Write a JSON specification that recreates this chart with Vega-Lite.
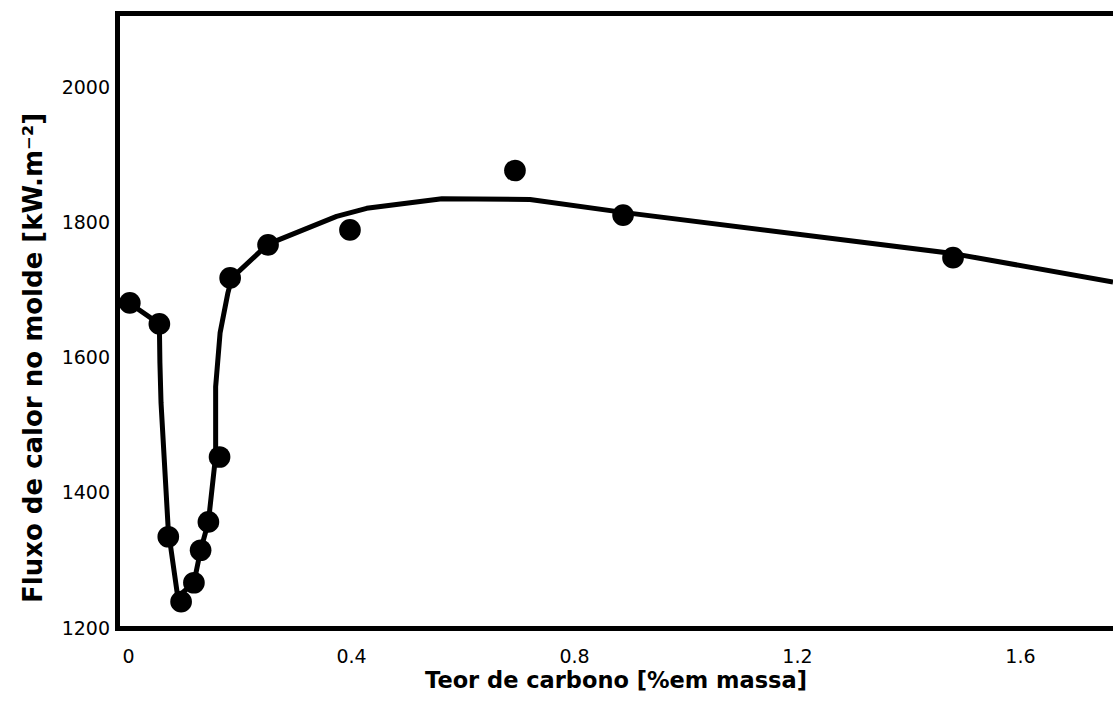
{
  "$schema": "https://vega.github.io/schema/vega-lite/v6.json",
  "width": 996,
  "height": 615,
  "autosize": {"type": "none"},
  "padding": {"left": 117, "top": 13, "right": 0, "bottom": 74},
  "background": "white",
  "view": {"stroke": null},
  "config": {
    "axis": {
      "grid": false,
      "ticks": false,
      "tickSize": 0,
      "domain": true,
      "domainColor": "black",
      "domainWidth": 5,
      "domainCap": "square",
      "labelFont": "DejaVu Sans",
      "labelFontSize": 19,
      "labelColor": "black",
      "titleFont": "DejaVu Sans",
      "titleFontWeight": "bold",
      "titleColor": "black"
    }
  },
  "datasets": {
    "curva": [
      {"ordem": 1, "carbono": 0.0, "fluxo": 1682},
      {"ordem": 2, "carbono": 0.056, "fluxo": 1650},
      {"ordem": 3, "carbono": 0.057, "fluxo": 1592},
      {"ordem": 4, "carbono": 0.059, "fluxo": 1533},
      {"ordem": 5, "carbono": 0.072, "fluxo": 1345},
      {"ordem": 6, "carbono": 0.089, "fluxo": 1246},
      {"ordem": 7, "carbono": 0.118, "fluxo": 1267},
      {"ordem": 8, "carbono": 0.130, "fluxo": 1315},
      {"ordem": 9, "carbono": 0.144, "fluxo": 1357},
      {"ordem": 10, "carbono": 0.157, "fluxo": 1455},
      {"ordem": 11, "carbono": 0.157, "fluxo": 1557},
      {"ordem": 12, "carbono": 0.165, "fluxo": 1637},
      {"ordem": 13, "carbono": 0.179, "fluxo": 1696},
      {"ordem": 14, "carbono": 0.186, "fluxo": 1718},
      {"ordem": 15, "carbono": 0.251, "fluxo": 1768},
      {"ordem": 16, "carbono": 0.374, "fluxo": 1809},
      {"ordem": 17, "carbono": 0.428, "fluxo": 1821},
      {"ordem": 18, "carbono": 0.563, "fluxo": 1835},
      {"ordem": 19, "carbono": 0.721, "fluxo": 1834},
      {"ordem": 20, "carbono": 0.888, "fluxo": 1815},
      {"ordem": 21, "carbono": 1.480, "fluxo": 1754},
      {"ordem": 22, "carbono": 1.767, "fluxo": 1712}
    ],
    "medidas": [
      {"carbono": 0.003, "fluxo": 1681},
      {"carbono": 0.056, "fluxo": 1650},
      {"carbono": 0.072, "fluxo": 1335},
      {"carbono": 0.095, "fluxo": 1239},
      {"carbono": 0.118, "fluxo": 1267},
      {"carbono": 0.130, "fluxo": 1315},
      {"carbono": 0.144, "fluxo": 1357},
      {"carbono": 0.164, "fluxo": 1453},
      {"carbono": 0.183, "fluxo": 1718},
      {"carbono": 0.251, "fluxo": 1767},
      {"carbono": 0.398, "fluxo": 1789},
      {"carbono": 0.694, "fluxo": 1877},
      {"carbono": 0.888, "fluxo": 1811},
      {"carbono": 1.480, "fluxo": 1748}
    ]
  },
  "layer": [
    {
      "data": {"name": "curva"},
      "mark": {"type": "line", "color": "black", "strokeWidth": 5, "strokeJoin": "round", "clip": true},
      "encoding": {
        "x": {
          "field": "carbono",
          "type": "quantitative",
          "scale": {"domain": [-0.02, 1.767], "nice": false, "zero": false},
          "axis": {
            "values": [0, 0.4, 0.8, 1.2, 1.6],
            "labelExpr": "datum.value === 0 ? '0' : format(datum.value, '.1f')",
            "labelPadding": 19,
            "title": "Teor de carbono [%em massa]",
            "titleFontSize": 22.5,
            "titleX": 498.5,
            "titleY": 59.5,
            "titleBaseline": "alphabetic",
            "titleAlign": "center"
          }
        },
        "y": {
          "field": "fluxo",
          "type": "quantitative",
          "scale": {"domain": [1200, 2110], "nice": false, "zero": false},
          "axis": {
            "values": [1200, 1400, 1600, 1800, 2000],
            "format": "d",
            "labelPadding": 7.5,
            "title": "Fluxo de calor no molde [kW.m⁻²]",
            "titleFontSize": 26,
            "titleAngle": 270,
            "titleX": -75.3,
            "titleY": 344.5,
            "titleBaseline": "alphabetic",
            "titleAlign": "center"
          }
        },
        "order": {"field": "ordem", "type": "quantitative"}
      }
    },
    {
      "data": {"name": "medidas"},
      "mark": {"type": "point", "shape": "circle", "filled": true, "color": "black", "opacity": 1, "size": 470},
      "encoding": {
        "x": {
          "field": "carbono",
          "type": "quantitative",
          "axis": {"orient": "top", "labels": false, "title": null, "values": []}
        },
        "y": {"field": "fluxo", "type": "quantitative"}
      }
    }
  ],
  "resolve": {"axis": {"x": "independent"}}
}
